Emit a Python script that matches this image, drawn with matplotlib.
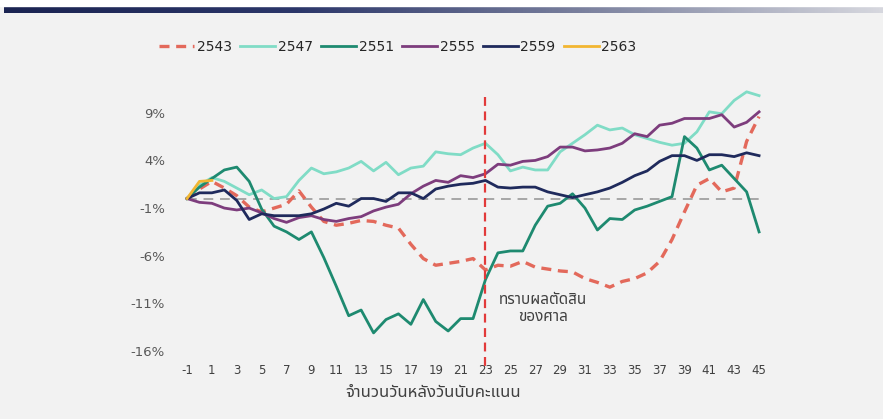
import numpy as np
import matplotlib
matplotlib.use("Agg")
import matplotlib.pyplot as plt
from matplotlib import font_manager
from matplotlib.colors import LinearSegmentedColormap

# days after vote count
days = list(range(-1, 46))

s2543 = [0, 1.0, 1.8, 1.1, 0.3, -0.9, -1.4, -1.0, -0.6, 0.8, -0.9, -2.4, -2.8, -2.6, -2.3, -2.4, -2.8,
         -3.1, -4.8, -6.3, -7.0, -6.8, -6.6, -6.3, -7.5, -7.0, -7.1, -6.6, -7.2, -7.4, -7.6, -7.7, -8.4,
         -8.8, -9.3, -8.7, -8.4, -7.8, -6.6, -4.3, -1.4, 1.4, 2.1, 0.7, 1.1, 6.0, 8.6]
s2547 = [0, 1.4, 2.2, 1.8, 1.1, 0.4, 0.9, 0.0, 0.2, 1.9, 3.2, 2.6, 2.8, 3.2, 3.9, 2.9, 3.8,
         2.5, 3.2, 3.4, 4.9, 4.7, 4.6, 5.3, 5.8, 4.6, 2.9, 3.3, 3.0, 3.0, 4.9, 5.8, 6.7,
         7.7, 7.2, 7.4, 6.7, 6.3, 5.9, 5.6, 5.8, 7.0, 9.1, 8.9, 10.3, 11.2, 10.8]
s2551 = [0, 1.2, 2.1, 3.0, 3.3, 1.8, -1.1, -2.9, -3.5, -4.3, -3.5, -6.2, -9.2, -12.3, -11.7, -14.1, -12.7,
         -12.1, -13.2, -10.6, -12.9, -13.9, -12.6, -12.6, -8.5, -5.7, -5.5, -5.5, -2.8, -0.8, -0.5, 0.5, -1.0,
         -3.3, -2.1, -2.2, -1.2, -0.8, -0.3, 0.2, 6.5, 5.3, 3.0, 3.5, 2.1, 0.7, -3.5]
s2555 = [0, -0.4, -0.5, -1.0, -1.2, -1.0, -1.5, -2.1, -2.5, -2.0, -1.8, -2.2, -2.4, -2.1, -1.9, -1.3, -0.9,
         -0.6, 0.5, 1.3, 1.9, 1.7, 2.4, 2.2, 2.6, 3.6, 3.5, 3.9, 4.0, 4.4, 5.4, 5.4, 5.0,
         5.1, 5.3, 5.8, 6.8, 6.5, 7.7, 7.9, 8.4, 8.4, 8.4, 8.8, 7.5, 8.0, 9.1]
s2559 = [0, 0.6, 0.6, 0.9, -0.2, -2.2, -1.6, -1.8, -1.8, -1.8, -1.6, -1.1, -0.5, -0.8, 0.0, 0.0, -0.3,
         0.6, 0.6, 0.0, 1.0, 1.3, 1.5, 1.6, 1.9, 1.2, 1.1, 1.2, 1.2, 0.7, 0.4, 0.1, 0.4,
         0.7, 1.1, 1.7, 2.4, 2.9, 3.9, 4.5, 4.5, 4.0, 4.6, 4.6, 4.4, 4.8, 4.5]
s2563 = [0, 1.8, 1.9]

series = [("2543", s2543, "#e3695b"), ("2547", s2547, "#80dcc6"), ("2551", s2551, "#1e8a70"),
          ("2555", s2555, "#7d3d7d"), ("2559", s2559, "#1f2a5c"), ("2563", s2563, "#f2b632")]

yticks = [-16, -11, -6, -1, 4, 9]
xticks = list(range(-1, 46, 2))
court_day = 23

# pick a font that has Thai glyphs if one exists
names = {f.name for f in font_manager.fontManager.ttflist}
cands = ['Noto Sans Thai', 'Noto Sans Thai UI', 'Noto Sans Thai Looped', 'Noto Serif Thai', 'Loma', 'Garuda',
         'Norasi', 'Kinnari', 'Sarabun', 'Tahoma', 'Leelawadee UI', 'FreeSans', 'FreeSerif', 'Umpush', 'Waree']
thai = [n for n in cands if n in names] + ['DejaVu Sans']

W, H = 883, 419
fig = plt.figure(figsize=(W / 100, H / 100), dpi=100, facecolor="#f2f2f2")

# white top strip + gradient bar
fig.patches.append(plt.Rectangle((0, 1 - 6 / H), 1, 6 / H, transform=fig.transFigure, color="white", zorder=0))
bar = fig.add_axes([4 / W, 1 - 13 / H, 1 - 4 / W, 6 / H])
cmap = LinearSegmentedColormap.from_list("bar", ["#1b2452", "#2c376a", "#7c829f", "#d6d7de"])
bar.imshow(np.linspace(0, 1, 300)[None, :], aspect="auto", cmap=cmap)
bar.axis("off")

ax = fig.add_axes([174.6 / W, 68 / H, 596.9 / W, 266.8 / H])
ax.set_facecolor("#f2f2f2")
ax.set_xlim(-2, 46)
ax.set_ylim(-16, 12)

ax.plot([-1, 45.3], [0, 0], color="#a6a6a6", lw=1.4, dashes=(5, 3.5), zorder=1)

for name, vals, col in series:
    x = days[:len(vals)]
    if name == "2543":
        ax.plot(x, vals, color=col, lw=2.4, dashes=(3, 2), label=name, zorder=3)
    else:
        ax.plot(x, vals, color=col, lw=2.0, label=name, zorder=3)

ax.plot([court_day, court_day], [10.65, -18.1], color="#e23a3a", lw=1.6, dashes=(4, 2.5),
        clip_on=False, zorder=4)

ax.set_xticks(xticks)
ax.set_xticklabels([str(t) for t in xticks], fontsize=8.5, color="#404040")
ax.set_yticks(yticks)
ax.set_yticklabels([f"{t}%" for t in yticks], fontsize=9.5, color="#595959")
ax.tick_params(length=0)
ax.tick_params(axis="x", pad=9)
ax.tick_params(axis="y", pad=7)
for sp in ax.spines.values():
    sp.set_visible(False)

ax.text(27.6, -11.6, "ทราบผลตัดสิน\nของศาล", family=thai, fontsize=11, color="#404040",
        ha="center", va="center", linespacing=1.25)

fig.text(433.5 / W, 1 - 393 / H, "จำนวนวันหลังวันนับคะแนน", family=thai, fontsize=12,
         fontweight="bold", color="#404040", ha="center", va="center")

fig.legend(loc="center", bbox_to_anchor=(398 / W, 1 - 47 / H), ncol=6, frameon=False,
           fontsize=10, handlelength=2.5, handletextpad=0.2, columnspacing=0.6,
           labelcolor="#262626")

fig.savefig("out.png", dpi=100, facecolor=fig.get_facecolor())
